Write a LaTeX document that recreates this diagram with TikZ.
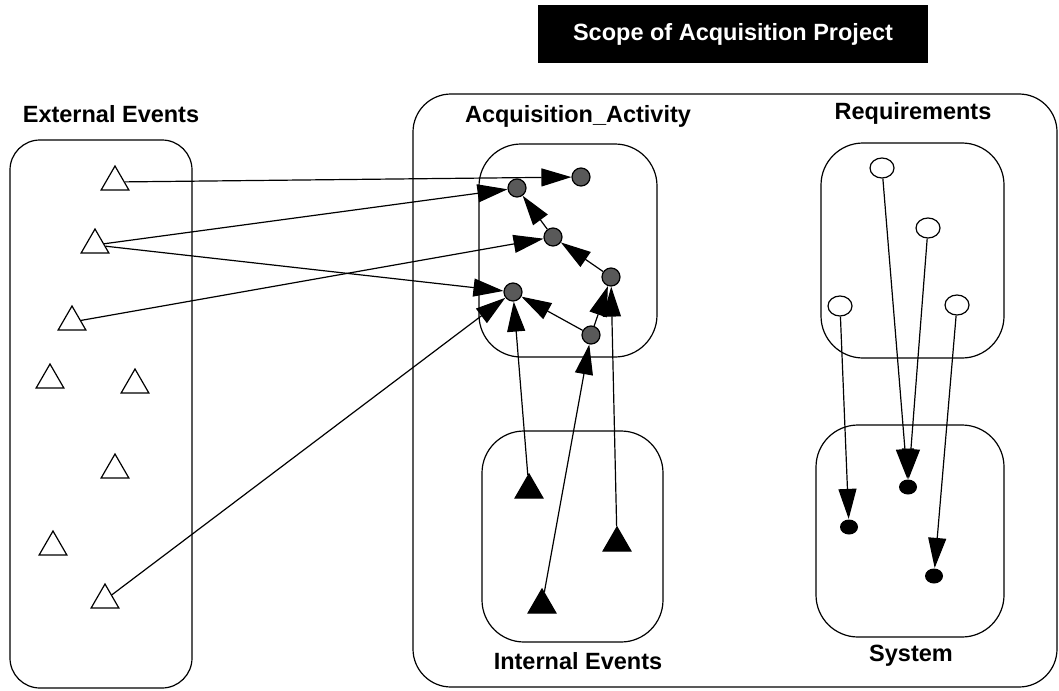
\documentclass[tikz,border=0pt]{standalone}
\usepackage{fontspec}
\setmainfont{Liberation Sans}
\usetikzlibrary{shapes.geometric,arrows.meta}
\begin{document}
\begin{tikzpicture}[x=1pt, y=-1pt, >={Triangle[length=30pt,width=18pt]}, line width=1.2pt,
  lbl/.style={font=\bfseries\fontsize{23.5}{26}\selectfont},
  box/.style={draw, rounded corners=42pt},
  ext/.style={draw, regular polygon, regular polygon sides=3, minimum size=32pt, inner sep=0pt, fill=white},
  int/.style={ext, fill=black},
  act/.style={draw, circle, fill=black!65, minimum size=18pt, inner sep=0pt},
  req/.style={draw, ellipse, fill=white, minimum width=24pt, minimum height=20pt, inner sep=0pt},
  sys/.style={ellipse, fill=black, minimum width=18pt, minimum height=15pt, inner sep=0pt}]
\useasboundingbox (0,0) rectangle (1059,690);
% title
\node[lbl, fill=black, text=white, minimum width=390pt, minimum height=58pt] (title) at (733,34) {Scope of Acquisition Project};
% boxes
\draw[box, rounded corners=30pt] (10,140) rectangle (192,688);
\draw[box, rounded corners=38pt] (413,94) rectangle (1057,687);
\draw[box] (479,144) rectangle (657,357);
\draw[box] (482,431) rectangle (663,642);
\draw[box] (821,143) rectangle (1004,358);
\draw[box] (816,425) rectangle (1004,637);
% labels
\node[lbl] (extlbl) at (111,114) {External Events};
\node[lbl] (actlbl) at (578,116) {Acquisition\_Activity};
\node[lbl] (reqlbl) at (913,113) {Requirements};
\node[lbl] (intlbl) at (578,661) {Internal Events};
\node[lbl] (syslbl) at (911,656) {System};
% external events
\node[ext] (e1) at (115,182) {};
\node[ext] (e2) at (95,245) {};
\node[ext] (e3) at (72,322) {};
\node[ext] (e4) at (50,380) {};
\node[ext] (e5) at (135,385) {};
\node[ext] (e6) at (115,470) {};
\node[ext] (e7) at (53,547) {};
\node[ext] (e8) at (105,600) {};
% activities
\node[act] (a1) at (581,177) {};
\node[act] (a2) at (517,188) {};
\node[act] (a3) at (553,237) {};
\node[act] (a4) at (611,277) {};
\node[act] (a5) at (513,292) {};
\node[act] (a6) at (591,335) {};
% internal events
\node[int] (i1) at (529,490) {};
\node[int] (i2) at (542,605) {};
\node[int] (i3) at (617,543) {};
% requirements and system
\node[req] (r1) at (882,168) {};
\node[req] (r2) at (928,228) {};
\node[req] (r3) at (840,306) {};
\node[req] (r4) at (957,305) {};
\node[sys] (s1) at (908,487) {};
\node[sys] (s2) at (849,527) {};
\node[sys] (s3) at (934,576) {};
% connectors
\draw[->] (e1) -- (a1);
\draw[->] (e2) -- (a2);
\draw[->] (e2) -- (a5);
\draw[->] (e3) -- (a3);
\draw[->] (e8) -- (a5);
\draw[->] (a3) -- (a2);
\draw[->] (a4) -- (a3);
\draw[->] (a6) -- (a5);
\draw[->] (a6) -- (a4);
\draw[->] (i1) -- (a5);
\draw[->] (i2) -- (a6);
\draw[->] (i3) -- (a4);
\draw[->] (r1) -- (s1);
\draw[->] (r2) -- (s1);
\draw[->] (r3) -- (s2);
\draw[->] (r4) -- (s3);
\end{tikzpicture}
\end{document}
